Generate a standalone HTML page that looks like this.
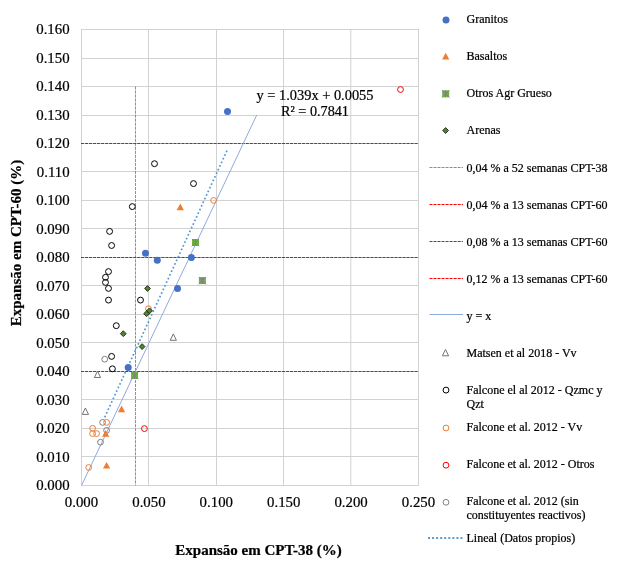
<!DOCTYPE html>
<html><head><meta charset="utf-8"><title>Expansão CPT-38 vs CPT-60</title>
<style>html,body{margin:0;padding:0;background:#fff}svg{display:block}text{font-family:"Liberation Serif","Times New Roman",serif;fill:#000;stroke:#000;stroke-width:0.22px}</style></head><body>
<svg width="627" height="581" viewBox="0 0 627 581">
<rect width="627" height="581" fill="#fff"/>
<g stroke="#D2D2D2" stroke-width="1" fill="none">
<line x1="81.0" y1="485.50" x2="419.0" y2="485.50"/>
<line x1="81.0" y1="456.50" x2="419.0" y2="456.50"/>
<line x1="81.0" y1="428.50" x2="419.0" y2="428.50"/>
<line x1="81.0" y1="399.50" x2="419.0" y2="399.50"/>
<line x1="81.0" y1="371.50" x2="419.0" y2="371.50"/>
<line x1="81.0" y1="342.50" x2="419.0" y2="342.50"/>
<line x1="81.0" y1="314.50" x2="419.0" y2="314.50"/>
<line x1="81.0" y1="285.50" x2="419.0" y2="285.50"/>
<line x1="81.0" y1="257.50" x2="419.0" y2="257.50"/>
<line x1="81.0" y1="228.50" x2="419.0" y2="228.50"/>
<line x1="81.0" y1="200.50" x2="419.0" y2="200.50"/>
<line x1="81.0" y1="171.50" x2="419.0" y2="171.50"/>
<line x1="81.0" y1="143.50" x2="419.0" y2="143.50"/>
<line x1="81.0" y1="115.50" x2="419.0" y2="115.50"/>
<line x1="81.0" y1="86.50" x2="419.0" y2="86.50"/>
<line x1="81.0" y1="58.50" x2="419.0" y2="58.50"/>
<line x1="81.0" y1="29.50" x2="419.0" y2="29.50"/>
<line x1="81.50" y1="29.0" x2="81.50" y2="486.0"/>
<line x1="148.50" y1="29.0" x2="148.50" y2="486.0"/>
<line x1="216.50" y1="29.0" x2="216.50" y2="486.0"/>
<line x1="283.50" y1="29.0" x2="283.50" y2="486.0"/>
<line x1="350.80" y1="29.0" x2="350.80" y2="486.0"/>
<line x1="418.50" y1="29.0" x2="418.50" y2="486.0"/>
</g>
<text transform="translate(69.60,490.30) scale(1.012,1)" font-size="14.67" text-anchor="end">0.000</text>
<text transform="translate(69.60,461.80) scale(1.012,1)" font-size="14.67" text-anchor="end">0.010</text>
<text transform="translate(69.60,433.30) scale(1.012,1)" font-size="14.67" text-anchor="end">0.020</text>
<text transform="translate(69.60,404.80) scale(1.012,1)" font-size="14.67" text-anchor="end">0.030</text>
<text transform="translate(69.60,376.30) scale(1.012,1)" font-size="14.67" text-anchor="end">0.040</text>
<text transform="translate(69.60,347.80) scale(1.012,1)" font-size="14.67" text-anchor="end">0.050</text>
<text transform="translate(69.60,319.30) scale(1.012,1)" font-size="14.67" text-anchor="end">0.060</text>
<text transform="translate(69.60,290.80) scale(1.012,1)" font-size="14.67" text-anchor="end">0.070</text>
<text transform="translate(69.60,262.30) scale(1.012,1)" font-size="14.67" text-anchor="end">0.080</text>
<text transform="translate(69.60,233.80) scale(1.012,1)" font-size="14.67" text-anchor="end">0.090</text>
<text transform="translate(69.60,205.30) scale(1.012,1)" font-size="14.67" text-anchor="end">0.100</text>
<text transform="translate(69.60,176.80) scale(1.012,1)" font-size="14.67" text-anchor="end">0.110</text>
<text transform="translate(69.60,148.30) scale(1.012,1)" font-size="14.67" text-anchor="end">0.120</text>
<text transform="translate(69.60,119.80) scale(1.012,1)" font-size="14.67" text-anchor="end">0.130</text>
<text transform="translate(69.60,91.30) scale(1.012,1)" font-size="14.67" text-anchor="end">0.140</text>
<text transform="translate(69.60,62.80) scale(1.012,1)" font-size="14.67" text-anchor="end">0.150</text>
<text transform="translate(69.60,34.30) scale(1.012,1)" font-size="14.67" text-anchor="end">0.160</text>
<text transform="translate(81.50,506.80) scale(1.012,1)" font-size="14.67" text-anchor="middle">0.000</text>
<text transform="translate(148.90,506.80) scale(1.012,1)" font-size="14.67" text-anchor="middle">0.050</text>
<text transform="translate(216.30,506.80) scale(1.012,1)" font-size="14.67" text-anchor="middle">0.100</text>
<text transform="translate(283.70,506.80) scale(1.012,1)" font-size="14.67" text-anchor="middle">0.150</text>
<text transform="translate(351.10,506.80) scale(1.012,1)" font-size="14.67" text-anchor="middle">0.200</text>
<text transform="translate(418.50,506.80) scale(1.012,1)" font-size="14.67" text-anchor="middle">0.250</text>
<text x="258.6" y="554.6" font-size="14.67" font-weight="bold" text-anchor="middle" fill="#000" textLength="166.5" lengthAdjust="spacingAndGlyphs">Expansão em CPT-38 (%)</text>
<text transform="translate(21.0,243) rotate(-90)" font-size="14.67" font-weight="bold" text-anchor="middle" fill="#000" textLength="166.5" lengthAdjust="spacingAndGlyphs">Expansão em CPT-60 (%)</text>
<line x1="135.5" y1="86.50" x2="135.5" y2="485.5" stroke="#BF9000" stroke-width="1" stroke-dasharray="3,1.02"/>
<line x1="81.0" y1="371.50" x2="418.5" y2="371.50" stroke="#FF0000" stroke-width="1" stroke-dasharray="3,1.02"/>
<line x1="81.0" y1="257.50" x2="418.5" y2="257.50" stroke="#FF0000" stroke-width="1" stroke-dasharray="3,1.02"/>
<line x1="81.0" y1="143.50" x2="418.5" y2="143.50" stroke="#FF0000" stroke-width="1" stroke-dasharray="3,1.02"/>
<line x1="81.5" y1="485.5" x2="256.74" y2="115.00" stroke="#8FAADC" stroke-width="1"/>
<line x1="226.95" y1="150.63" x2="104.6" y2="417.5" stroke="#5596D6" stroke-width="1.7" stroke-dasharray="1.7,2.295"/>
<path d="M173.3 333.90L176.40 340.30L170.20 340.30Z" fill="none" stroke="#6E6E6E" stroke-width="0.95"/>
<path d="M97.5 371.10L100.60 377.50L94.40 377.50Z" fill="none" stroke="#6E6E6E" stroke-width="0.95"/>
<path d="M85.4 408.00L88.50 414.40L82.30 414.40Z" fill="none" stroke="#6E6E6E" stroke-width="0.95"/>
<circle cx="154.5" cy="163.7" r="2.95" fill="none" stroke="#000" stroke-width="1.0"/>
<circle cx="193.5" cy="183.6" r="2.95" fill="none" stroke="#000" stroke-width="1.0"/>
<circle cx="132.3" cy="206.6" r="2.95" fill="none" stroke="#000" stroke-width="1.0"/>
<circle cx="109.6" cy="231.4" r="2.95" fill="none" stroke="#000" stroke-width="1.0"/>
<circle cx="111.6" cy="245.5" r="2.95" fill="none" stroke="#000" stroke-width="1.0"/>
<circle cx="108.5" cy="271.6" r="2.95" fill="none" stroke="#000" stroke-width="1.0"/>
<circle cx="105.5" cy="277.3" r="2.95" fill="none" stroke="#000" stroke-width="1.0"/>
<circle cx="105.5" cy="282.4" r="2.95" fill="none" stroke="#000" stroke-width="1.0"/>
<circle cx="108.5" cy="288.4" r="2.95" fill="none" stroke="#000" stroke-width="1.0"/>
<circle cx="108.5" cy="300.1" r="2.95" fill="none" stroke="#000" stroke-width="1.0"/>
<circle cx="140.5" cy="300.1" r="2.95" fill="none" stroke="#000" stroke-width="1.0"/>
<circle cx="116.3" cy="325.7" r="2.95" fill="none" stroke="#000" stroke-width="1.0"/>
<circle cx="111.6" cy="356.4" r="2.95" fill="none" stroke="#000" stroke-width="1.0"/>
<circle cx="112.4" cy="368.8" r="2.95" fill="none" stroke="#000" stroke-width="1.0"/>
<circle cx="104.7" cy="359.2" r="2.9" fill="none" stroke="#7F7F7F" stroke-width="1.0"/>
<circle cx="102.6" cy="422.4" r="2.9" fill="none" stroke="#7F7F7F" stroke-width="1.0"/>
<circle cx="106.6" cy="430.4" r="2.9" fill="none" stroke="#7F7F7F" stroke-width="1.0"/>
<circle cx="100.5" cy="442.2" r="2.9" fill="none" stroke="#7F7F7F" stroke-width="1.0"/>
<circle cx="213.6" cy="200.4" r="2.9" fill="none" stroke="#ED7D31" stroke-width="1.0"/>
<circle cx="148.5" cy="308.7" r="2.9" fill="none" stroke="#ED7D31" stroke-width="1.0"/>
<circle cx="106.6" cy="422.4" r="2.9" fill="none" stroke="#ED7D31" stroke-width="1.0"/>
<circle cx="92.6" cy="428.3" r="2.9" fill="none" stroke="#ED7D31" stroke-width="1.0"/>
<circle cx="92.6" cy="433.6" r="2.9" fill="none" stroke="#ED7D31" stroke-width="1.0"/>
<circle cx="96.6" cy="433.6" r="2.9" fill="none" stroke="#ED7D31" stroke-width="1.0"/>
<circle cx="88.7" cy="467.5" r="2.9" fill="none" stroke="#ED7D31" stroke-width="1.0"/>
<circle cx="400.5" cy="89.5" r="2.9" fill="none" stroke="#FF0000" stroke-width="1.0"/>
<circle cx="144.4" cy="428.6" r="2.9" fill="none" stroke="#FF0000" stroke-width="1.0"/>
<path d="M147.5 285.60L150.40 288.5L147.5 291.40L144.60 288.5Z" fill="#548235" stroke="#1E3210" stroke-width="0.95"/>
<path d="M146.6 310.80L149.50 313.7L146.6 316.60L143.70 313.7Z" fill="#548235" stroke="#1E3210" stroke-width="0.95"/>
<path d="M149.5 307.90L152.40 310.8L149.5 313.70L146.60 310.8Z" fill="#548235" stroke="#1E3210" stroke-width="0.95"/>
<path d="M123.3 330.80L126.20 333.7L123.3 336.60L120.40 333.7Z" fill="#548235" stroke="#1E3210" stroke-width="0.95"/>
<path d="M142.1 343.70L145.00 346.6L142.1 349.50L139.20 346.6Z" fill="#548235" stroke="#1E3210" stroke-width="0.95"/>
<rect x="192.00" y="239.00" width="7.0" height="7.0" fill="#70AD47"/><path d="M195.5 239.00V246.00M192.00 239.00L199.30 246.30M199.00 239.00L191.70 246.30" stroke="#7F7F7F" stroke-width="0.9" fill="none"/>
<rect x="198.90" y="277.10" width="7.0" height="7.0" fill="#70AD47"/><path d="M202.4 277.10V284.10M198.90 277.10L206.20 284.40M205.90 277.10L198.60 284.40" stroke="#7F7F7F" stroke-width="0.9" fill="none"/>
<rect x="131.10" y="372.00" width="7.0" height="7.0" fill="#70AD47"/><path d="M134.6 372.00V379.00M131.10 372.00L138.40 379.30M138.10 372.00L130.80 379.30" stroke="#7F7F7F" stroke-width="0.9" fill="none"/>
<path d="M180.3 203.60L183.90 210.30L176.70 210.30Z" fill="#ED7D31"/>
<path d="M121.6 405.60L125.20 412.30L118.00 412.30Z" fill="#ED7D31"/>
<path d="M105.7 430.10L109.30 436.80L102.10 436.80Z" fill="#ED7D31"/>
<path d="M106.6 461.90L110.20 468.60L103.00 468.60Z" fill="#ED7D31"/>
<circle cx="227.5" cy="111.6" r="3.5" fill="#4472C4"/>
<circle cx="145.5" cy="253.3" r="3.5" fill="#4472C4"/>
<circle cx="157.3" cy="260.3" r="3.5" fill="#4472C4"/>
<circle cx="191.4" cy="257.4" r="3.5" fill="#4472C4"/>
<circle cx="177.5" cy="288.4" r="3.5" fill="#4472C4"/>
<circle cx="128.2" cy="367.5" r="3.5" fill="#4472C4"/>
<text transform="translate(315.00,100.20) scale(1.0,1)" font-size="14.4" text-anchor="middle" fill="#000">y = 1.039x + 0.0055</text>
<text transform="translate(315.00,116.40) scale(1.0,1)" font-size="14.2" text-anchor="middle" fill="#000">R² = 0.7841</text>
<circle cx="446" cy="20" r="3.5" fill="#4472C4"/>
<text x="466.5" y="22.8" font-size="12">Granitos</text>
<path d="M445.7 52.80L449.30 59.50L442.10 59.50Z" fill="#ED7D31"/>
<text x="466.5" y="60.0" font-size="12">Basaltos</text>
<rect x="442.20" y="90.30" width="7.0" height="7.0" fill="#70AD47"/><path d="M445.7 90.30V97.30M442.20 90.30L449.50 97.60M449.20 90.30L441.90 97.60" stroke="#7F7F7F" stroke-width="0.9" fill="none"/>
<text x="466.5" y="96.8" font-size="12">Otros Agr Grueso</text>
<path d="M445.6 127.60L448.50 130.5L445.6 133.40L442.70 130.5Z" fill="#548235" stroke="#1E3210" stroke-width="0.95"/>
<text x="466.5" y="133.8" font-size="12">Arenas</text>
<line x1="429.5" y1="167.5" x2="463" y2="167.5" stroke="#BF9000" stroke-width="1" stroke-dasharray="3,1.02"/>
<text x="466.5" y="171.5" font-size="12">0,04 % a 52 semanas CPT-38</text>
<line x1="429.5" y1="204.5" x2="463" y2="204.5" stroke="#FF0000" stroke-width="1" stroke-dasharray="3,1.02"/>
<text x="466.5" y="209.0" font-size="12">0,04 % a 13 semanas CPT-60</text>
<line x1="429.5" y1="241.5" x2="463" y2="241.5" stroke="#FF0000" stroke-width="1" stroke-dasharray="3,1.02"/>
<text x="466.5" y="246.0" font-size="12">0,08 % a 13 semanas CPT-60</text>
<line x1="429.5" y1="278.5" x2="463" y2="278.5" stroke="#FF0000" stroke-width="1" stroke-dasharray="3,1.02"/>
<text x="466.5" y="283.0" font-size="12">0,12 % a 13 semanas CPT-60</text>
<line x1="429.5" y1="314.5" x2="463" y2="314.5" stroke="#8FAADC" stroke-width="1"/>
<text x="466.5" y="319.5" font-size="12">y = x</text>
<path d="M445.5 349.40L448.60 355.80L442.40 355.80Z" fill="none" stroke="#6E6E6E" stroke-width="0.95"/>
<text x="466.5" y="356.5" font-size="12">Matsen et al 2018 - Vv</text>
<circle cx="446" cy="390.1" r="2.95" fill="none" stroke="#000" stroke-width="1.0"/>
<text x="466.5" y="393.5" font-size="12">Falcone el al 2012 - Qzmc y</text>
<text x="466.5" y="408.0" font-size="12">Qzt</text>
<circle cx="446" cy="428" r="2.9" fill="none" stroke="#ED7D31" stroke-width="1.0"/>
<text x="466.5" y="430.6" font-size="12">Falcone et al. 2012 - Vv</text>
<circle cx="446" cy="465.2" r="2.9" fill="none" stroke="#FF0000" stroke-width="1.0"/>
<text x="466.5" y="467.8" font-size="12">Falcone et al. 2012 - Otros</text>
<circle cx="446" cy="502.3" r="2.9" fill="none" stroke="#7F7F7F" stroke-width="1.0"/>
<text x="466.5" y="504.6" font-size="12">Falcone et al. 2012 (sin</text>
<text x="466.5" y="519.0" font-size="12">constituyentes reactivos)</text>
<line x1="428" y1="538" x2="463.5" y2="538" stroke="#5B9BD5" stroke-width="2" stroke-dasharray="2,2.06"/>
<text x="466.5" y="542.0" font-size="12">Lineal (Datos propios)</text>
</svg></body></html>
